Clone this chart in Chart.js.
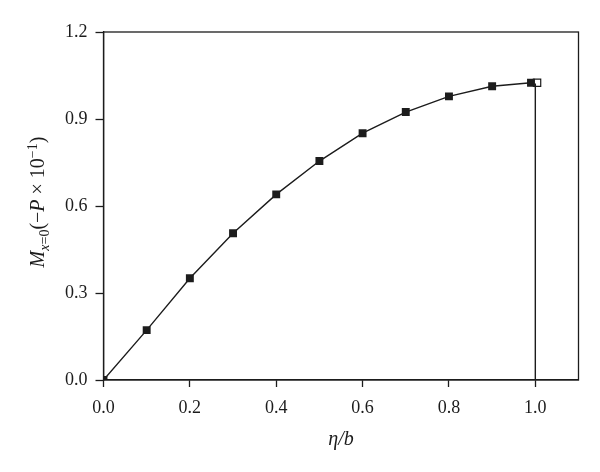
<!DOCTYPE html>
<html>
<head>
<meta charset="utf-8">
<script src="https://cdn.jsdelivr.net/npm/chart.js@4.4.0/dist/chart.umd.min.js"></script>
<style>
    html, body { margin: 0; padding: 0; background: #fff; }
    #wrap { width: 600px; height: 472px; position: relative; }
</style>
</head>
<body>
<div id="wrap"><canvas id="chart"></canvas></div>
<script>
// Values
const etaB = [0.0, 0.1, 0.2, 0.3, 0.4, 0.5, 0.6, 0.7, 0.8, 0.9, 0.99];
const moment = [0.0, 0.172, 0.351, 0.506, 0.640, 0.755, 0.851, 0.924, 0.978, 1.013, 1.025];
const openX = [1.004];
const openY = [1.025];
const edgeX = [1.0, 1.0];
const edgeY = [0.0, 1.022];
const xTicks = [0.0, 0.2, 0.4, 0.6, 0.8, 1.0];
const yTicks = [0.0, 0.3, 0.6, 0.9, 1.2];

const SERIF = "'Liberation Serif', 'DejaVu Serif', serif";
const INK = '#1c1c1c';

const toPoints = (xs, ys) => xs.map((x, i) => ({ x: x, y: ys[i] }));

// Frame on top/right and the axis titles (mixed italic / sub / superscript)
const framePlugin = {
    id: 'frame',
    afterDraw(chart) {
        const { ctx, chartArea: a } = chart;
        ctx.save();
        ctx.strokeStyle = INK;
        ctx.lineWidth = 1.3;
        ctx.strokeRect(a.left, a.top, a.right - a.left, a.bottom - a.top);

        // x title
        ctx.fillStyle = INK;
        ctx.font = 'italic 20px ' + SERIF;
        ctx.textAlign = 'center';
        ctx.textBaseline = 'middle';
        ctx.fillText('\u03B7/b', (a.left + a.right) / 2, 440);

        // y title, rotated
        const parts = [
            { t: 'M', f: 'italic 20px', dy: 0 },
            { t: 'x', f: 'italic 14px', dy: 5 },
            { t: '=0', f: '14px', dy: 5 },
            { t: '(\u2212', f: '20px', dy: 0 },
            { t: 'P', f: 'italic 20px', dy: 0 },
            { t: ' \u00D7 10', f: '20px', dy: 0 },
            { t: '\u22121', f: '14px', dy: -7 },
            { t: ')', f: '20px', dy: 0 }
        ];
        let total = 0;
        parts.forEach(p => {
            ctx.font = p.f + ' ' + SERIF;
            p.w = ctx.measureText(p.t).width;
            total += p.w;
        });
        ctx.translate(37, 202);
        ctx.rotate(-Math.PI / 2);
        ctx.textAlign = 'left';
        ctx.textBaseline = 'alphabetic';
        let x = -total / 2;
        parts.forEach(p => {
            ctx.font = p.f + ' ' + SERIF;
            ctx.fillText(p.t, x, 7 + p.dy);
            x += p.w;
        });
        ctx.restore();
    }
};

new Chart(document.getElementById('chart'), {
    type: 'scatter',
    data: {
        datasets: [
            {
                data: toPoints(etaB, moment),
                showLine: true,
                borderColor: INK,
                borderWidth: 1.4,
                pointStyle: 'rect',
                pointRadius: 5.6,
                pointBackgroundColor: INK,
                pointBorderColor: INK,
                pointBorderWidth: 0
            },
            {
                data: toPoints(edgeX, edgeY),
                showLine: true,
                borderColor: INK,
                borderWidth: 1.4,
                pointRadius: 0
            },
            {
                data: toPoints(openX, openY),
                pointStyle: 'rect',
                pointRadius: 5.2,
                pointBackgroundColor: '#fff',
                pointBorderColor: INK,
                pointBorderWidth: 1.2
            }
        ]
    },
    options: {
        responsive: true,
        maintainAspectRatio: false,
        animation: false,
        layout: { padding: { top: 32, right: 21.5, left: 0, bottom: 0 } },
        plugins: {
            legend: { display: false },
            tooltip: { enabled: false }
        },
        scales: {
            x: {
                type: 'linear',
                min: 0,
                max: 1.1,
                afterFit: s => { s.height = 92; },
                afterBuildTicks: s => { s.ticks = xTicks.map(v => ({ value: v })); },
                grid: {
                    drawOnChartArea: false,
                    drawTicks: true,
                    tickLength: 7,
                    tickColor: INK,
                    tickWidth: 1.3
                },
                border: { color: INK, width: 1.3 },
                ticks: {
                    color: INK,
                    padding: 10,
                    maxRotation: 0,
                    font: { family: SERIF, size: 18 },
                    callback: v => v.toFixed(1)
                }
            },
            y: {
                type: 'linear',
                min: 0,
                max: 1.2,
                afterFit: s => { s.width = 103.5; },
                afterBuildTicks: s => { s.ticks = yTicks.map(v => ({ value: v })); },
                grid: {
                    drawOnChartArea: false,
                    drawTicks: true,
                    tickLength: 8,
                    tickColor: INK,
                    tickWidth: 1.3
                },
                border: { color: INK, width: 1.3 },
                ticks: {
                    color: INK,
                    padding: 8,
                    font: { family: SERIF, size: 18 },
                    callback: v => v.toFixed(1)
                }
            }
        }
    },
    plugins: [framePlugin]
});
</script>
</body>
</html>
